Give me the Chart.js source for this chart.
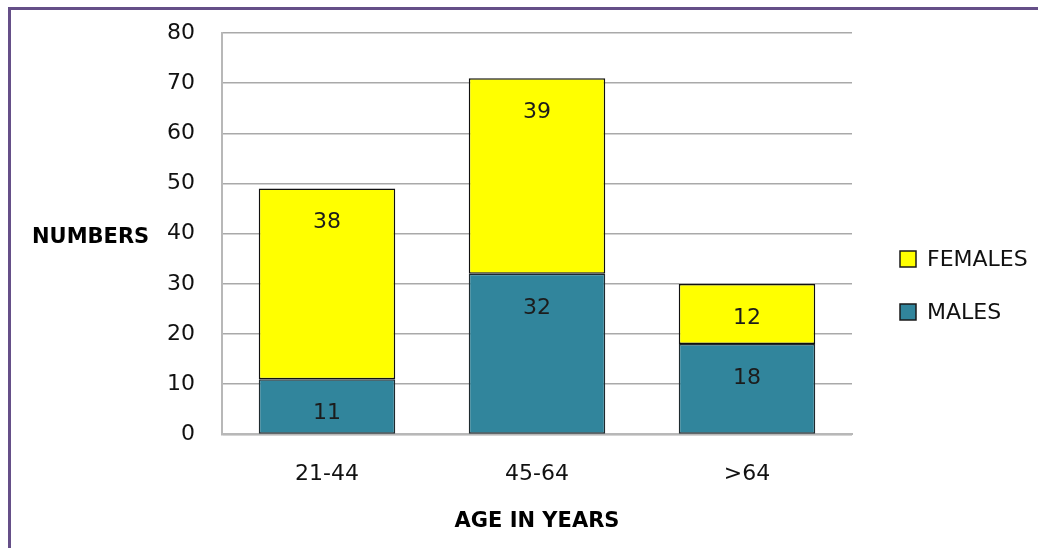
<!DOCTYPE html>
<html lang="en">
<head>
  <meta charset="UTF-8" />
  <title>Age groups</title>
  <script src="https://cdn.jsdelivr.net/npm/chart.js"></script>
  <style>
    body { margin: 0; background: #fff; }
    .wrap { position: relative; width: 1038px; height: 548px; }
    .frame {
      position: absolute; left: 8px; top: 7px; right: 0; bottom: 0;
      border-top: 3px solid #654f88;
      border-left: 3px solid #654f88;
      pointer-events: none;
    }
  </style>
</head>
<body>
  <div class="wrap">
    <canvas id="ageChart"></canvas>
    <div class="frame"></div>
  </div>

  <script>
    const ageGroups = ['21-44', '45-64', '>64'];
    const males = [11, 32, 18];
    const females = [38, 39, 12];
    const yTicks = [0, 10, 20, 30, 40, 50, 60, 70, 80];

    const FONT = "'DejaVu Sans', sans-serif";

    // value labels sit near the top of each segment, like Excel's "inside end"
    const segmentLabels = {
      id: 'segmentLabels',
      afterDatasetsDraw(chart) {
        const ctx = chart.ctx;
        ctx.save();
        ctx.font = '22px ' + FONT;
        ctx.fillStyle = '#1c1c1c';
        ctx.textAlign = 'center';
        ctx.textBaseline = 'middle';
        chart.data.datasets.forEach((ds, i) => {
          chart.getDatasetMeta(i).data.forEach((bar, j) => {
            ctx.fillText(ds.data[j], bar.x, bar.y + 34);
          });
        });
        ctx.restore();
      }
    };

    // horizontal y title + legend on the right
    const sideText = {
      id: 'sideText',
      afterDraw(chart) {
        const ctx = chart.ctx;
        const area = chart.chartArea;
        ctx.save();
        ctx.font = 'bold 21px ' + FONT;
        ctx.fillStyle = '#000';
        ctx.textBaseline = 'middle';
        ctx.textAlign = 'left';
        ctx.fillText('NUMBERS', 32, (area.top + area.bottom) / 2 + 4);

        const items = chart.data.datasets.slice().reverse();
        ctx.font = '22px ' + FONT;
        items.forEach((ds, k) => {
          const y = 259 + k * 53;
          const x = area.right + 48;
          ctx.fillStyle = ds.backgroundColor;
          ctx.fillRect(x, y - 8, 16, 16);
          ctx.strokeStyle = '#1a1a1a';
          ctx.lineWidth = 1.5;
          ctx.strokeRect(x, y - 8, 16, 16);
          ctx.fillStyle = '#111';
          ctx.fillText(ds.label, x + 27, y + 1);
        });
        ctx.restore();
      }
    };

    new Chart(document.getElementById('ageChart'), {
      type: 'bar',
      data: {
        labels: ageGroups,
        datasets: [
          {
            label: 'MALES',
            data: males,
            backgroundColor: '#31859c',
            borderColor: '#1f2a2e',
            borderWidth: 1.5,
            borderSkipped: false
          },
          {
            label: 'FEMALES',
            data: females,
            backgroundColor: '#ffff00',
            borderColor: '#111',
            borderWidth: 1.5,
            borderSkipped: false
          }
        ]
      },
      options: {
        responsive: true,
        maintainAspectRatio: false,
        animation: false,
        layout: { padding: { left: 140, right: 186, top: 33, bottom: 14 } },
        datasets: { bar: { categoryPercentage: 1, barPercentage: 0.65 } },
        plugins: {
          legend: { display: false },
          tooltip: { enabled: false }
        },
        scales: {
          x: {
            stacked: true,
            grid: { display: false, drawTicks: false },
            border: { color: '#b8b8b8', width: 2 },
            ticks: { padding: 27, color: '#111', font: { family: FONT, size: 22 } },
            title: {
              display: true,
              text: 'AGE IN YEARS',
              color: '#000',
              padding: { top: -6, bottom: 0 },
              font: { family: FONT, size: 21, weight: 'bold' }
            }
          },
          y: {
            stacked: true,
            min: 0,
            max: 80,
            afterBuildTicks(scale) { scale.ticks = yTicks.map(v => ({ value: v })); },
            afterFit(scale) { scale.paddingTop = 0; scale.paddingBottom = 0; },
            grid: { color: '#a9a9a9', lineWidth: 1.5, drawTicks: false },
            border: { color: '#b8b8b8', width: 2 },
            ticks: { padding: 27, color: '#111', font: { family: FONT, size: 22 } }
          }
        }
      },
      plugins: [segmentLabels, sideText]
    });
  </script>
</body>
</html>
